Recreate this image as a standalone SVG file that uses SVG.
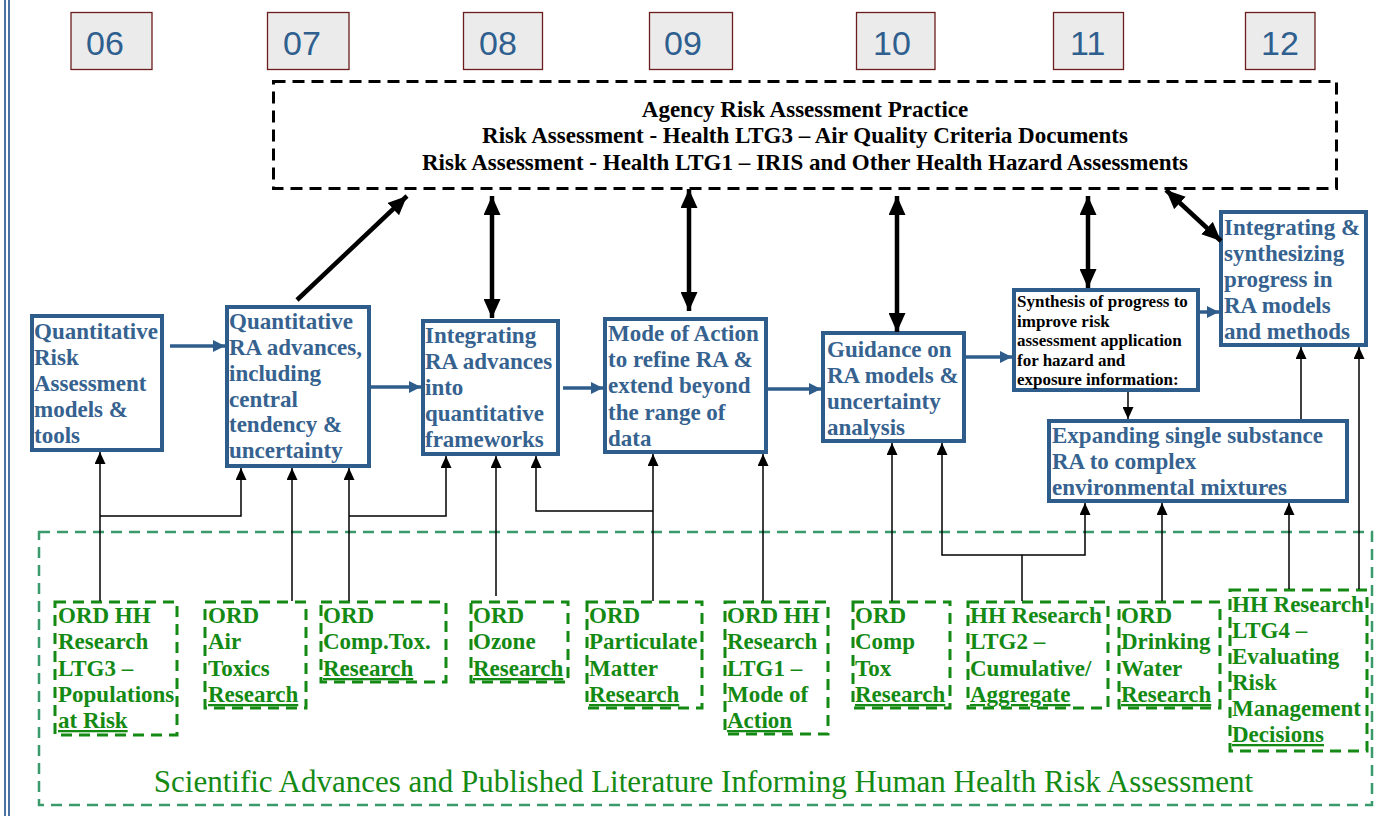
<svg xmlns="http://www.w3.org/2000/svg" width="1382" height="816" viewBox="0 0 1382 816">
<style>
.yr rect{fill:#ebebeb;stroke:#6b1c1c;stroke-width:1.3}
.yr text{font-family:"Liberation Sans",Arial,sans-serif;font-size:34px;fill:#2f5f8f}
.bx rect{fill:#fff;stroke:#2e5d8c;stroke-width:4}
.bx text{font-family:"Liberation Serif","Times New Roman",serif;font-weight:bold;font-size:23px;fill:#36628f}
.syn text{fill:#000;font-size:17px}
.gb rect{fill:none;stroke:#148a14;stroke-width:3;stroke-dasharray:11 7}
.gb text{font-family:"Liberation Serif","Times New Roman",serif;font-weight:bold;font-size:23px;fill:#148a14}
.ul{text-decoration:underline}
.top rect{fill:#fff;stroke:#000;stroke-width:3;stroke-dasharray:12 7}
.top text{font-family:"Liberation Serif","Times New Roman",serif;font-weight:bold;font-size:23px;fill:#000;text-anchor:middle}
.outer{fill:none;stroke:#3a9a6c;stroke-width:2.5;stroke-dasharray:11 7}
.foot{font-family:"Liberation Serif","Times New Roman",serif;font-size:31px;fill:#148a14;text-anchor:middle}
.blue{fill:none;stroke:#2e5d8c;stroke-width:3.5;marker-end:url(#hb)}
.thick{fill:none;stroke:#000;stroke-width:4.5}
.thin{fill:none;stroke:#000;stroke-width:1.5}
.ta{marker-end:url(#ht)}
</style>
<defs>
<marker id="hb" markerUnits="userSpaceOnUse" markerWidth="12" markerHeight="12" refX="12" refY="6" orient="auto"><path d="M0,0 L12,6 L0,12 z" fill="#2e5d8c"/></marker>
<marker id="hk" markerUnits="userSpaceOnUse" markerWidth="19" markerHeight="17" refX="19" refY="8.5" orient="auto-start-reverse"><path d="M0,0 L19,8.5 L0,17 z" fill="#000"/></marker>
<marker id="ht" markerUnits="userSpaceOnUse" markerWidth="12" markerHeight="11" refX="12" refY="5.5" orient="auto"><path d="M0,0 L12,5.5 L0,11 z" fill="#000"/></marker>
</defs>

<g id="page-border">
<line x1="5" y1="0" x2="5" y2="816" stroke="#4a72a3" stroke-width="2"/>
<line x1="9" y1="0" x2="9" y2="816" stroke="#4a72a3" stroke-width="2"/>
</g>

<g id="years" class="yr">
<g id="y06"><rect x="71" y="12.5" width="81" height="57"/><text x="86" y="55">06</text></g>
<g id="y07"><rect x="267.5" y="12.5" width="81.5" height="57"/><text x="283" y="55">07</text></g>
<g id="y08"><rect x="463.5" y="12.5" width="79" height="57"/><text x="479" y="55">08</text></g>
<g id="y09"><rect x="649.5" y="12.5" width="83" height="57"/><text x="664" y="55">09</text></g>
<g id="y10"><rect x="856.5" y="12.5" width="78.5" height="57"/><text x="873" y="55">10</text></g>
<g id="y11"><rect x="1053.5" y="12.5" width="70" height="57"/><text x="1070" y="55">11</text></g>
<g id="y12"><rect x="1245.5" y="12.5" width="69.5" height="57"/><text x="1261" y="55">12</text></g>
</g>

<rect id="literature-frame" class="outer" x="39" y="532" width="1333" height="273"/>

<g id="agency" class="top">
<rect x="273.5" y="81.5" width="1063" height="107"/>
<text x="805" y="117">Agency Risk Assessment Practice</text>
<text x="805" y="143">Risk Assessment - Health LTG3 – Air Quality Criteria Documents</text>
<text x="805" y="170">Risk Assessment - Health LTG1 – IRIS and Other Health Hazard Assessments</text>
</g>

<g id="b1" class="bx"><rect x="32" y="316" width="130" height="134"/>
<text x="34"><tspan x="34" y="339">Quantitative</tspan><tspan x="34" y="365">Risk</tspan><tspan x="34" y="391">Assessment</tspan><tspan x="34" y="417">models &amp;</tspan><tspan x="34" y="443">tools</tspan></text></g>

<g id="b2" class="bx"><rect x="227" y="307" width="142" height="159"/>
<text><tspan x="229" y="329">Quantitative</tspan><tspan x="229" y="355">RA advances,</tspan><tspan x="229" y="381">including</tspan><tspan x="229" y="407">central</tspan><tspan x="229" y="432">tendency &amp;</tspan><tspan x="229" y="458">uncertainty</tspan></text></g>

<g id="b3" class="bx"><rect x="423" y="321" width="135" height="133"/>
<text><tspan x="425" y="343">Integrating</tspan><tspan x="425" y="369">RA advances</tspan><tspan x="425" y="395">into</tspan><tspan x="425" y="421">quantitative</tspan><tspan x="425" y="447">frameworks</tspan></text></g>

<g id="b4" class="bx"><rect x="605" y="319" width="161" height="133"/>
<text><tspan x="608" y="341">Mode of Action</tspan><tspan x="608" y="367">to refine RA &amp;</tspan><tspan x="608" y="393">extend beyond</tspan><tspan x="608" y="420">the range of</tspan><tspan x="608" y="446">data</tspan></text></g>

<g id="b5" class="bx"><rect x="823" y="333" width="141" height="108"/>
<text><tspan x="827" y="357">Guidance on</tspan><tspan x="827" y="383">RA models &amp;</tspan><tspan x="827" y="409">uncertainty</tspan><tspan x="827" y="435">analysis</tspan></text></g>

<g id="synthesis" class="bx syn"><rect x="1014" y="290" width="184" height="100"/>
<text><tspan x="1017" y="307">Synthesis of progress to</tspan><tspan x="1017" y="326.5">improve risk</tspan><tspan x="1017" y="346">assessment application</tspan><tspan x="1017" y="365.5">for hazard and</tspan><tspan x="1017" y="385">exposure information:</tspan></text></g>

<g id="b7" class="bx"><rect x="1221" y="212" width="145" height="133"/>
<text><tspan x="1224" y="235">Integrating &amp;</tspan><tspan x="1224" y="261">synthesizing</tspan><tspan x="1224" y="287">progress in</tspan><tspan x="1224" y="313">RA models</tspan><tspan x="1224" y="339">and methods</tspan></text></g>

<g id="b8" class="bx"><rect x="1049" y="421" width="298" height="80"/>
<text><tspan x="1052" y="443">Expanding single substance</tspan><tspan x="1052" y="469">RA to complex</tspan><tspan x="1052" y="495">environmental mixtures</tspan></text></g>

<g id="g1" class="gb"><rect x="55" y="602" width="122" height="133"/>
<text><tspan x="58" y="623">ORD HH</tspan><tspan x="58" y="649">Research</tspan><tspan x="58" y="676">LTG3 –</tspan><tspan x="58" y="702">Populations</tspan><tspan x="58" y="728" class="ul">at Risk</tspan></text></g>

<g id="g2" class="gb"><rect x="205" y="602" width="101" height="106"/>
<text><tspan x="208" y="623">ORD</tspan><tspan x="208" y="649">Air</tspan><tspan x="208" y="676">Toxics</tspan><tspan x="208" y="702" class="ul">Research</tspan></text></g>

<g id="g3" class="gb"><rect x="321" y="602" width="125" height="80"/>
<text><tspan x="323" y="623">ORD</tspan><tspan x="323" y="649">Comp.Tox.</tspan><tspan x="323" y="676" class="ul">Research</tspan></text></g>

<g id="g4" class="gb"><rect x="471" y="602" width="97" height="80"/>
<text><tspan x="473" y="623">ORD</tspan><tspan x="473" y="649">Ozone</tspan><tspan x="473" y="676" class="ul">Research</tspan></text></g>

<g id="g5" class="gb"><rect x="587" y="602" width="115" height="106"/>
<text><tspan x="589" y="623">ORD</tspan><tspan x="589" y="649">Particulate</tspan><tspan x="589" y="676">Matter</tspan><tspan x="589" y="702" class="ul">Research</tspan></text></g>

<g id="g6" class="gb"><rect x="725" y="602" width="103" height="132"/>
<text><tspan x="727" y="623">ORD HH</tspan><tspan x="727" y="649">Research</tspan><tspan x="727" y="676">LTG1 –</tspan><tspan x="727" y="702">Mode of</tspan><tspan x="727" y="728" class="ul">Action</tspan></text></g>

<g id="g7" class="gb"><rect x="853" y="602" width="97" height="106"/>
<text><tspan x="855" y="623">ORD</tspan><tspan x="855" y="649">Comp</tspan><tspan x="855" y="676">Tox</tspan><tspan x="855" y="702" class="ul">Research</tspan></text></g>

<g id="g8" class="gb"><rect x="968" y="602" width="140" height="106"/>
<text><tspan x="970" y="623">HH Research</tspan><tspan x="970" y="649">LTG2 –</tspan><tspan x="970" y="676">Cumulative/</tspan><tspan x="970" y="702" class="ul">Aggregate</tspan></text></g>

<g id="g9" class="gb"><rect x="1119" y="602" width="101" height="106"/>
<text><tspan x="1121" y="623">ORD</tspan><tspan x="1121" y="649">Drinking</tspan><tspan x="1121" y="676">Water</tspan><tspan x="1121" y="702" class="ul">Research</tspan></text></g>

<g id="g10" class="gb"><rect x="1230" y="590" width="137" height="161"/>
<text><tspan x="1232" y="612">HH Research</tspan><tspan x="1232" y="638">LTG4 –</tspan><tspan x="1232" y="664">Evaluating</tspan><tspan x="1232" y="690">Risk</tspan><tspan x="1232" y="716">Management</tspan><tspan x="1232" y="742" class="ul">Decisions</tspan></text></g>

<text id="footer" class="foot" x="703.5" y="792">Scientific Advances and Published Literature Informing Human Health Risk Assessment</text>

<g id="connectors">
<path class="blue" d="M170,346 H225"/>
<path class="blue" d="M371,387 H421"/>
<path class="blue" d="M563,388 H603"/>
<path class="blue" d="M768,389 H821"/>
<path class="blue" d="M966,357 H1012"/>
<path class="blue" d="M1199,312 H1219"/>

<path class="thick" d="M297,300 L407,196" marker-end="url(#hk)"/>
<path class="thick" d="M492,196 V318" marker-start="url(#hk)" marker-end="url(#hk)"/>
<path class="thick" d="M689,189 V311" marker-start="url(#hk)" marker-end="url(#hk)"/>
<path class="thick" d="M897,196 V332" marker-start="url(#hk)" marker-end="url(#hk)"/>
<path class="thick" d="M1088,196 V288" marker-start="url(#hk)" marker-end="url(#hk)"/>
<path class="thick" d="M1166,190 L1221,241" marker-start="url(#hk)" marker-end="url(#hk)"/>

<path class="thin ta" d="M100,601 V452"/>
<path class="thin ta" d="M100,516 H241 V468"/>
<path class="thin ta" d="M292,601 V468"/>
<path class="thin ta" d="M349,601 V468"/>
<path class="thin ta" d="M349,516 H446 V456"/>
<path class="thin ta" d="M496,596 V456"/>
<path class="thin ta" d="M653,601 V454"/>
<path class="thin ta" d="M653,511 H536 V456"/>
<path class="thin ta" d="M763,601 V454"/>
<path class="thin ta" d="M892,601 V443"/>
<path class="thin" d="M1022,601 V555"/>
<path class="thin ta" d="M1022,555 H942 V443"/>
<path class="thin ta" d="M1022,555 H1085 V503"/>
<path class="thin ta" d="M1162,601 V503"/>
<path class="thin ta" d="M1289,589 V503"/>
<path class="thin ta" d="M1359,589 V347"/>
<path class="thin ta" d="M1301,419 V347"/>
<path class="thin ta" d="M1128,392 V419"/>
</g>
</svg>
